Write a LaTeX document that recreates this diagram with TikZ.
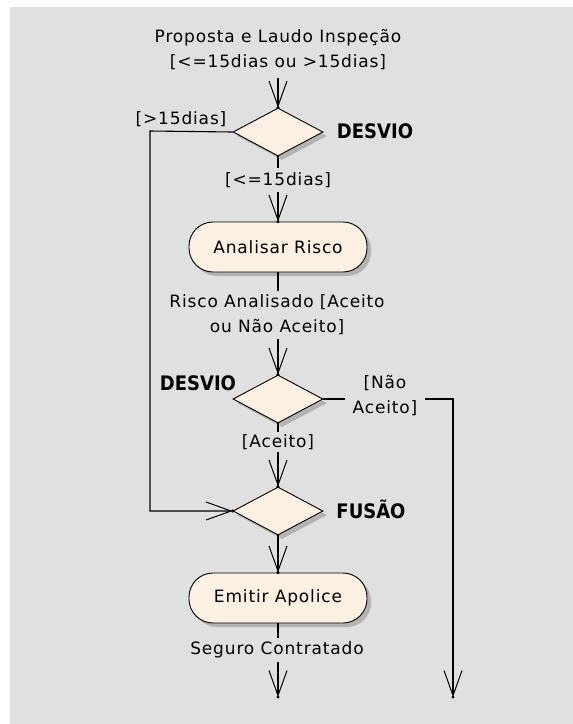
\documentclass[tikz,border=0pt]{standalone}
\usepackage{fontspec}
\setmainfont{DejaVu Sans}[LetterSpace=5]
\newfontfamily\captionfont{DejaVu Sans Condensed Bold}
\usetikzlibrary{shapes.geometric,arrows.meta,shadows}

\definecolor{panel}{HTML}{E0E0E0}
\definecolor{cream}{HTML}{FBF0E1}

\tikzset{
  shade box/.style={drop shadow={shadow xshift=4pt, shadow yshift=-4pt, fill=black, opacity=0.2}},
  choice/.style={diamond, draw=black, line width=0.9pt, fill=cream, shade box,
    minimum width=90pt, minimum height=48pt, aspect=1.875, inner sep=0pt},
  activity/.style={rectangle, rounded corners=24pt, draw=black, line width=0.9pt,
    fill=cream, shade box, minimum width=178pt, minimum height=50pt,
    font=\fontsize{17}{20}\selectfont},
  flow/.style={line width=1.1pt, -{Straight Barb[length=25pt, width=18pt, line width=1pt]}},
  tipdot/.style={fill=black},
  tag/.style={fill=panel, inner xsep=3pt, inner ysep=4pt, align=center,
    font=\fontsize{17}{25}\selectfont},
  title/.style={font=\fontsize{20}{22}\captionfont, inner sep=0pt},
}

\begin{document}
\begin{tikzpicture}[x=1pt, y=-1pt]
  \useasboundingbox (0,0) rectangle (573,724);
  \fill[panel] (10,7) rectangle (573,724);

  % nodes of the activity flow
  \node[choice]   (split1) at (278,132) {};
  \node[activity] (analyse) at (278,247) {Analisar Risco};
  \node[choice]   (split2) at (278,399) {};
  \node[choice]   (merge)  at (278,511) {};
  \node[activity] (issue)  at (278,598) {Emitir Apolice};

  \coordinate (start)  at (278,78);
  \coordinate (leftx)  at (150,131);
  \coordinate (endA)   at (278,697);
  \coordinate (endB)   at (453,697);

  % connectors
  \draw[flow] (start) -- (split1.north);
  \draw[flow] (split1.west) -- (leftx) |- (merge.west);
  \draw[flow] (split1.south) -- (analyse.north);
  \draw[flow] (analyse.south) -- (split2.north);
  \draw[flow] (split2.east) -| (endB);
  \draw[flow] (split2.south) -- (merge.north);
  \draw[flow] (merge.south) -- (issue.north);
  \draw[flow] (issue.south) -- (endA);

  % small dots where the arrows meet their targets
  \foreach \p in {split1.north, merge.west, analyse.north, split2.north,
                  endB, merge.north, issue.north, endA}
    \fill[tipdot] (\p) circle (1.7pt);

  % guard and object labels
  \node[tag, inner ysep=2pt] (lblStart) at (278,50) {Proposta e Laudo Inspeção\\{}[<=15dias ou >15dias]};
  \node[tag, fill=none] (lblLong)  at (181,119) {[>15dias]};
  \node[tag] (lblShort) at (278,180) {[<=15dias]};
  \node[tag] (lblRisk)  at (277,315) {Risco Analisado [Aceito\\ou Não Aceito]};
  \node[tag, inner xsep=8pt] (lblNo) at (385,396) {[Não\\Aceito]};
  \node[tag, inner ysep=2pt] (lblYes) at (278,442) {[Aceito]};
  \node[tag] (lblDone)  at (277,650) {Seguro Contratado};

  % node captions
  \node[title] (cap1) at (375,131) {DESVIO};
  \node[title] (cap2) at (198,383) {DESVIO};
  \node[title] (cap3) at (371,509) {FUSÃO};
\end{tikzpicture}
\end{document}
